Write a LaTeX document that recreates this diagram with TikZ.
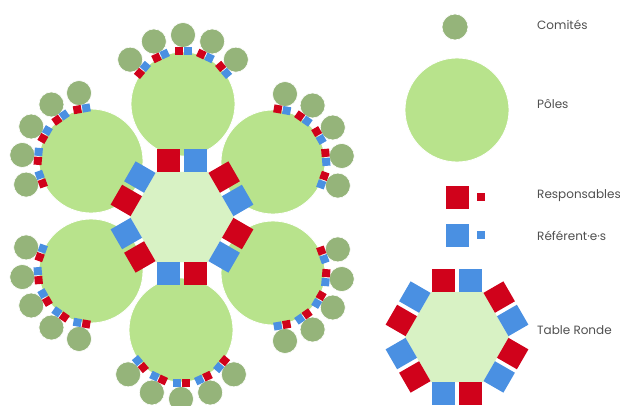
\documentclass[tikz,border=0pt]{standalone}
\usepackage{fontspec}
\setmainfont{Poppins}
\definecolor{polefill}{HTML}{B8E38C}
\definecolor{hexfill}{HTML}{D8F2C4}
\definecolor{comfill}{HTML}{95B47A}
\definecolor{respc}{HTML}{D0021B}
\definecolor{refc}{HTML}{4A90E2}
\definecolor{txt}{HTML}{505050}
\tikzset{
  pole/.style={fill=polefill, draw=white, line width=0.8pt},
  comite/.style={fill=comfill, draw=white, line width=0.6pt},
  resp/.style={fill=respc},
  refe/.style={fill=refc},
  legtext/.style={anchor=west, text=txt, font=\fontsize{12}{14}\selectfont, inner sep=0pt},
  tableronde/.pic={
    \fill[hexfill] (0:52) -- (60:52) -- (120:52) -- (180:52) -- (240:52) -- (300:52) -- cycle;
    \foreach \p in {90,30,-30,-90,-150,150}{
      \begin{scope}[rotate=\p-90]
        \fill[resp] (-25,45) rectangle (-2,68);
        \fill[refe] (2,45) rectangle (25,68);
      \end{scope}
    }
  }
}
\begin{document}
\begin{tikzpicture}[x=1pt,y=1pt]
\useasboundingbox (0,0) rectangle (620,405);
\fill[white] (0,0) rectangle (620,405);

% main diagram
\begin{scope}[shift={(182,188)}]
  % comites
  \foreach \p/\dx/\dy in {90/1/113,30/91/55,-30/91/-56,-90/-1/-113,-150/-91/-54,150/-91/56}{
    \begin{scope}[shift={(\dx,\dy)}]
      \foreach \k in {-50,-25,0,25,50}
        \draw[comite] (\p+\k:69) circle (12.5);
    \end{scope}
  }
  % poles
  \foreach \p/\dx/\dy in {90/1/113,30/91/55,-30/91/-56,-90/-1/-113,-150/-91/-54,150/-91/56}
    \draw[pole] (\dx,\dy) circle (52);
  % small squares
  \foreach \p/\dx/\dy in {90/1/113,30/91/55,-30/91/-56,-90/-1/-113,-150/-91/-54,150/-91/56}{
    \begin{scope}[shift={(\dx,\dy)}]
      \foreach \k in {-50,-25,0,25,50}{
        \begin{scope}[rotate=\p+\k-90]
          \fill[resp] (-8.5,49) rectangle (-0.5,57);
          \fill[refe] (0.5,49) rectangle (8.5,57);
        \end{scope}
      }
    \end{scope}
  }
  \pic at (0,0) {tableronde};
\end{scope}

% legend
\draw[comite] (455,378) circle (13);
\node[legtext] (lcom) at (537,380) {Comités};
\draw[pole] (457,295) circle (52);
\node[legtext] (lpol) at (537,301) {Pôles};
\fill[resp] (445.5,196.5) rectangle (468.5,219.5);
\fill[resp] (477,204) rectangle (485,212);
\node[legtext] (lresp) at (537,209) {Responsables};
\fill[refe] (445.5,158.5) rectangle (468.5,181.5);
\fill[refe] (477,166) rectangle (485,174);
\node[legtext] (lref) at (537,169) {Référent·e·s};
\pic at (457,68) {tableronde};
\node[legtext] (ltab) at (537,75) {Table Ronde};
\end{tikzpicture}
\end{document}
